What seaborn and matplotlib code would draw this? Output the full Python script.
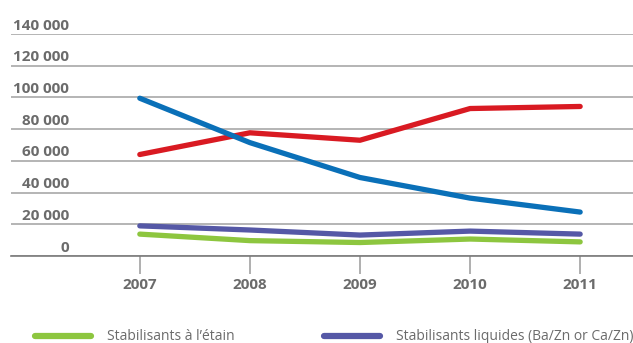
import numpy as np
import pandas as pd
import matplotlib
matplotlib.use("Agg")
import matplotlib.pyplot as plt
import seaborn as sns
from matplotlib.lines import Line2D

# ---- data ----
years = [2007, 2008, 2009, 2010, 2011]
stab_plomb = [99500, 71500, 49500, 36500, 27700]
stab_calcium = [64000, 77700, 73000, 93000, 94300]
stab_liquides = [19000, 16400, 13200, 15700, 13800]
stab_etain = [13800, 9700, 8500, 10700, 8900]

series_names = [
    "Stabilisants à base de calcium",
    "Stabilisants au plomb",
    "Stabilisants liquides (Ba/Zn or Ca/Zn)",
    "Stabilisants à l’étain",
]
series_values = [stab_calcium, stab_plomb, stab_liquides, stab_etain]
series_colors = ["#d91a22", "#0a70b8", "#5558a6", "#8dc63f"]

yticks = [0, 20000, 40000, 60000, 80000, 100000, 120000, 140000]
ytick_labels = ["0", "20 000", "40 000", "60 000", "80 000", "100 000", "120 000", "140 000"]
legend_names = ["Stabilisants à l’étain", "Stabilisants liquides (Ba/Zn or Ca/Zn)"]

# ---- styling ----
sns.set_theme(style="white")
plt.rcParams["font.family"] = ["Open Sans", "DejaVu Sans"]
TEXT = "#6b6b6b"

rows = []
for name, vals in zip(series_names, series_values):
    for y, v in zip(years, vals):
        rows.append({"year": y, "value": v, "series": name})
df = pd.DataFrame(rows)
palette = dict(zip(series_names, series_colors))

fig = plt.figure(figsize=(6.33, 3.43), dpi=100)
W, H = 633, 343
ax = fig.add_axes([11 / W, 1 - 256 / H, 622 / W, 222 / H])

sns.lineplot(data=df, x="year", y="value", hue="series", hue_order=series_names,
             palette=palette, linewidth=3.8, ax=ax, legend=False, sort=False)
for ln in ax.lines:
    ln.set_solid_capstyle("round")
    ln.set_solid_joinstyle("round")
    ln.set_zorder(3)

# axes limits
ax.set_xlim(years[0] - 1.17, years[0] + 4.48)
ax.set_ylim(0, 140000)

# grid
ax.set_yticks(yticks)
ax.set_yticklabels([])
ax.tick_params(axis="y", length=0)
ax.yaxis.grid(True, color="#a8a8a8", linewidth=1.2)
ax.set_axisbelow(True)
for s in ["top", "right", "left"]:
    ax.spines[s].set_visible(False)
ax.spines["bottom"].set_color("#7a7a7a")
ax.spines["bottom"].set_linewidth(1.2)
ax.spines["bottom"].set_zorder(2)

# y labels above gridlines
for v, lab in zip(yticks, ytick_labels):
    ax.annotate(lab, xy=(58 / 622, v), xycoords=("axes fraction", "data"),
                xytext=(0, 3.2), textcoords="offset points",
                ha="right", va="baseline", fontsize=11, fontweight="bold",
                color=TEXT, annotation_clip=False)

# x ticks
ax.set_xticks(years)
ax.set_xticklabels([str(y) for y in years])
ax.tick_params(axis="x", direction="out", length=13, width=1.1, color="#9a9a9a",
               labelsize=11, labelcolor=TEXT, pad=2.5, bottom=True)
for t in ax.get_xticklabels():
    t.set_fontweight("bold")
ax.set_xlabel("")
ax.set_ylabel("")

# legend (only the two visible entries)
positions = [(35 / W, 1 - 337 / H), (324 / W, 1 - 337 / H)]
for name, (lx, ly) in zip(legend_names, positions):
    h = Line2D([], [], color=palette[name], linewidth=4.5, solid_capstyle="round")
    fig.legend(handles=[h], labels=[name], loc="center left",
               bbox_to_anchor=(lx, ly), bbox_transform=fig.transFigure,
               frameon=False, handlelength=4.0, handletextpad=1.15,
               borderpad=0, borderaxespad=0,
               prop={"family": ["Open Sans", "DejaVu Sans"], "size": 10}, labelcolor=TEXT)

fig.savefig("out.png", dpi=100)
